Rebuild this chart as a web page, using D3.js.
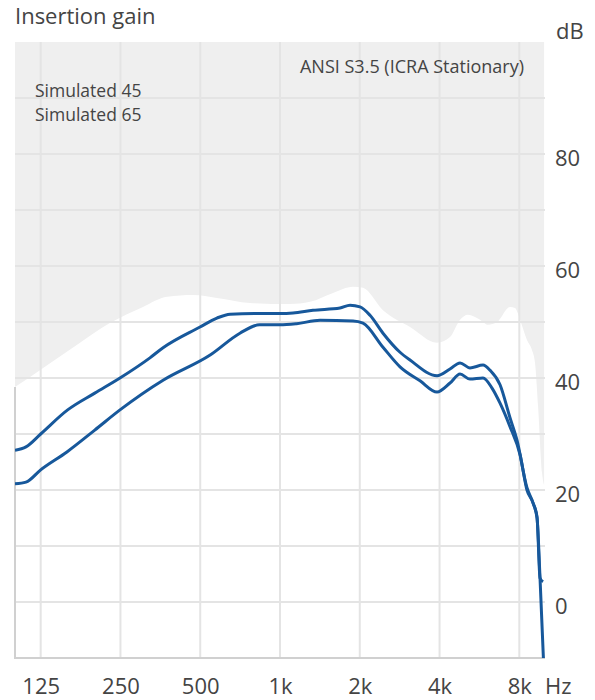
<!DOCTYPE html>
<html>
<head>
<meta charset="utf-8">
<script src="https://cdn.jsdelivr.net/npm/d3@7"></script>
<style>
  body { margin: 0; background: #fff; }
  text { font-family: "Open Sans", sans-serif; fill: #444; }
</style>
</head>
<body>
<div class="chart"></div>
<script>
// frequencies (Hz) and gains (dB)
var freqTicks = [125, 250, 500, 1000, 2000, 4000, 8000];
var freqLabels = ["125", "250", "500", "1k", "2k", "4k", "8k"];
var dbTicks = [0, 20, 40, 60, 80];

var icraFreq = [100, 114, 136, 171, 228, 304, 375, 470, 578, 770, 1090, 1298, 1585, 1886, 2057, 2447, 3095, 3913, 4380, 4780, 5120, 5685, 6095, 6590, 7378, 7707, 8050, 8550, 8930, 9170, 9420, 9750, 9920];
var icraDb = [38.4, 40.2, 42.7, 45.9, 49.8, 52.7, 54.5, 54.8, 54.3, 53.4, 53.2, 53.6, 55.2, 56.3, 56.1, 52.1, 49.1, 46.3, 47.3, 50.4, 51.3, 50.4, 49.5, 50.0, 52.7, 52.5, 50.4, 46.8, 45.0, 42.7, 34.8, 23.0, 20.9];

var sim45Freq = [100, 110, 125, 158, 200, 249, 323, 362, 499, 578, 648, 800, 1000, 1120, 1332, 1684, 1838, 2004, 2186, 2447, 2837, 3095, 3913, 4380, 4780, 5210, 5836, 6200, 6766, 7378, 7840, 8550, 9010, 9330, 9576, 9830];
var sim45Db = [27.1, 27.7, 30.0, 34.3, 37.3, 40.0, 43.6, 45.4, 49.1, 50.7, 51.4, 51.5, 51.5, 51.6, 52.1, 52.5, 53.0, 52.7, 51.2, 48.0, 44.6, 43.2, 40.4, 41.6, 42.7, 41.8, 42.3, 41.4, 38.8, 32.9, 28.9, 20.4, 17.7, 15.2, 4.3, 3.6];

var sim65Freq = [100, 110, 125, 157, 200, 249, 362, 545, 706, 837, 1000, 1155, 1416, 1886, 2057, 2447, 2837, 3376, 3913, 4380, 4780, 5210, 5836, 6310, 6766, 7378, 8050, 8550, 9010, 9330, 9576, 9870];
var sim65Db = [21.1, 21.4, 23.6, 26.8, 30.7, 34.3, 39.6, 44.1, 48.0, 49.5, 49.5, 49.7, 50.3, 50.2, 49.8, 45.5, 42.0, 39.5, 37.5, 39.1, 40.7, 39.8, 40.0, 38.2, 35.5, 31.3, 26.3, 20.0, 17.7, 15.0, 4.3, -10.4];

var svgWidth = 595;
var svgHeight = 700;
var margin = { top: 42, right: 50, bottom: 42, left: 15 };
var width = svgWidth - margin.left - margin.right;
var height = svgHeight - margin.top - margin.bottom;

var svg = d3.select(".chart")
  .append("svg")
  .attr("width", svgWidth)
  .attr("height", svgHeight);

var chartGroup = svg.append("g")
  .attr("transform", `translate(${margin.left}, ${margin.top})`);

var xScale = d3.scaleLog().domain([100, 10000]).range([0, width]);
var yScale = d3.scaleLinear().domain([-10, 100]).range([height, 0]);

chartGroup.append("clipPath").attr("id", "plot-clip")
  .append("rect").attr("width", width).attr("height", height);

// ICRA band: shaded from the curve up to the top
var icra = icraFreq.map((f, i) => ({ f: f, v: icraDb[i] }));
var area = d3.area()
  .x(d => xScale(d.f))
  .y0(yScale(100))
  .y1(d => yScale(d.v))
  .curve(d3.curveMonotoneX);

chartGroup.append("path")
  .datum(icra)
  .attr("d", area)
  .attr("fill", "#efefef");

// grid
chartGroup.append("g")
  .selectAll("line")
  .data(d3.range(0, 100, 10))
  .enter()
  .append("line")
  .attr("x1", 0).attr("x2", width)
  .attr("y1", d => yScale(d)).attr("y2", d => yScale(d))
  .attr("stroke", "#e4e4e4").attr("stroke-width", 2);

chartGroup.append("g")
  .selectAll("line")
  .data(freqTicks)
  .enter()
  .append("line")
  .attr("x1", d => xScale(d)).attr("x2", d => xScale(d))
  .attr("y1", 0).attr("y2", height)
  .attr("stroke", "#e4e4e4").attr("stroke-width", 2);

// left + bottom frame
chartGroup.append("path")
  .attr("d", `M0,${yScale(icraDb[0])}V${height}H${width}`)
  .attr("fill", "none")
  .attr("stroke", "#d0d0d0")
  .attr("stroke-width", 2);

// simulated curves
var line = d3.line()
  .x(d => xScale(d.f))
  .y(d => yScale(d.v))
  .curve(d3.curveMonotoneX);

[[sim45Freq, sim45Db], [sim65Freq, sim65Db]].forEach(function (s) {
  chartGroup.append("path")
    .datum(s[0].map((f, i) => ({ f: f, v: s[1][i] })))
    .attr("clip-path", "url(#plot-clip)")
    .attr("d", line)
    .attr("fill", "none")
    .attr("stroke", "#17589b")
    .attr("stroke-width", 3)
    .attr("stroke-linejoin", "round");
});

// axis labels
var xAxis = d3.axisBottom(xScale)
  .tickValues(freqTicks)
  .tickFormat((d, i) => freqLabels[i])
  .tickSize(0)
  .tickPadding(20);

var xg = chartGroup.append("g")
  .attr("transform", `translate(0, ${height})`)
  .call(xAxis);
xg.select(".domain").remove();
xg.selectAll("text").attr("font-size", 22).attr("font-family", null).attr("fill", "#444");

var yAxis = d3.axisRight(yScale)
  .tickValues(dbTicks)
  .tickSize(0)
  .tickPadding(10);

var yg = chartGroup.append("g")
  .attr("transform", `translate(${width}, 0)`)
  .call(yAxis);
yg.select(".domain").remove();
yg.selectAll("text").attr("font-size", 22).attr("font-family", null).attr("fill", "#444")
  .attr("dy", "0.5em");

svg.append("text")
  .attr("x", 545).attr("y", 694)
  .attr("font-size", 22)
  .text("Hz");

svg.append("text")
  .attr("x", 556).attr("y", 39)
  .attr("font-size", 22)
  .text("dB");

svg.append("text")
  .attr("x", 15).attr("y", 24)
  .attr("font-size", 22)
  .text("Insertion gain");

// legend
svg.append("text")
  .attr("x", 524).attr("y", 73)
  .attr("text-anchor", "end")
  .attr("font-size", 18)
  .attr("fill", "#333")
  .text("ANSI S3.5 (ICRA Stationary)");

svg.append("text")
  .attr("x", 35).attr("y", 97)
  .attr("font-size", 17.5)
  .attr("fill", "#333")
  .text("Simulated 45");

svg.append("text")
  .attr("x", 35).attr("y", 121)
  .attr("font-size", 17.5)
  .attr("fill", "#333")
  .text("Simulated 65");
</script>
</body>
</html>
